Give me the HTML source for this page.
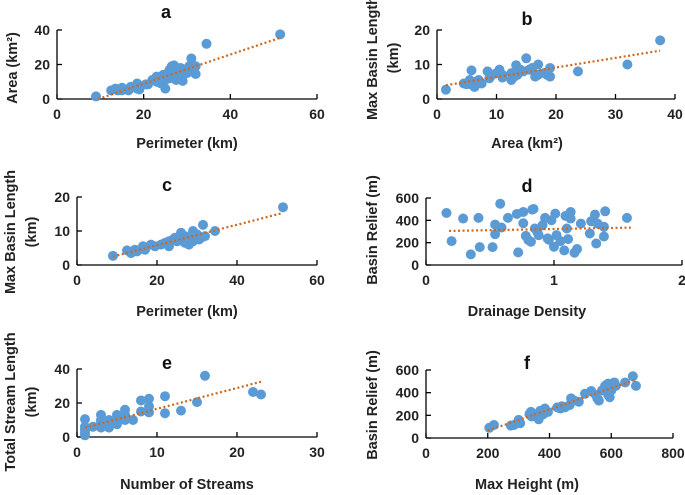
<!DOCTYPE html>
<html><head><meta charset="utf-8">
<style>
body{margin:0;background:#fff;}
svg{display:block;font-family:"Liberation Sans",sans-serif;font-weight:bold;}
</style></head>
<body>
<svg id="c" width="685" height="495" viewBox="0 0 685 495"></svg>
<script>
const aData=[[9,1.5],[12.5,5],[13.5,6],[14,5],[15,6.5],[15,5],[16.5,5],[17,7],[18.5,9],[18.5,6],[19,5.5],[20.5,8.5],[21,8.5],[22,11],[23,13],[23,10],[24,12],[24,9],[24.5,14],[25,6],[25,11],[25.5,15],[26,17],[26,12],[26.5,19],[27,19.5],[27,14],[27.5,11],[28,16],[28,12],[28.5,18],[29,10.5],[29,14],[29.5,17],[30,15],[30.5,19],[31,23.5],[31.5,18],[32,14.5],[32,19],[34.5,32],[51.5,37.5]];
const aTrend=[[9.5,0],[51.5,35.5]];
const bData=[[1.5,2.7],[4.5,4.5],[5,4.3],[5.5,5.5],[5.8,8.3],[6,4],[6.3,3.5],[6.5,5],[7,5.5],[7.5,4.5],[8.5,8],[8.8,6],[9,6.5],[10,7.5],[10.5,8.5],[11,6.2],[11,7],[12.5,5.5],[12.5,7.5],[13,6.5],[13.3,9.8],[13.5,7],[14,8.5],[14.5,8],[15,11.8],[15.5,8.5],[16,9],[16.5,6.5],[17,7],[17,10],[18,7.5],[18.5,7],[19,9],[19,6.5],[23.7,8],[32,10],[37.5,17]];
const bTrend=[[1.5,4],[37.5,14]];
const cData=[[9,2.7],[12.5,4.3],[13.5,3.5],[14.5,4.5],[15,4],[16.5,5.5],[17,4.5],[18.5,6],[19.5,5.5],[21,6],[22,6.5],[23,5.5],[23,7],[24,7.5],[24.5,8],[25,7],[25.5,8],[26,9.5],[26.5,7],[27,8.5],[27,6.5],[27.5,7.5],[28,6],[28.5,8],[29,10],[29,7],[29.5,8.5],[30,9],[30.5,7.5],[31,8],[31.5,11.8],[32,8.5],[34.5,10],[51.5,17]];
const cTrend=[[9,2.5],[51.5,15.3]];
const dData=[[0.16,466],[0.2,214],[0.29,416],[0.35,95],[0.41,422],[0.42,160],[0.52,160],[0.54,362],[0.54,276],[0.58,549],[0.59,336],[0.64,422],[0.72,113],[0.71,457],[0.76,374],[0.76,475],[0.78,261],[0.8,223],[0.82,208],[0.83,496],[0.84,502],[0.85,327],[0.87,297],[0.88,267],[0.91,356],[0.93,422],[0.95,238],[0.96,226],[0.98,401],[1.0,163],[1.01,460],[1.02,267],[1.05,214],[1.08,131],[1.09,440],[1.1,327],[1.11,232],[1.13,416],[1.13,475],[1.16,110],[1.18,143],[1.21,371],[1.28,282],[1.29,392],[1.32,451],[1.33,193],[1.34,371],[1.39,342],[1.39,255],[1.4,481],[1.57,422]];
const dTrend=[[0.18,305],[1.6,335]];
const eData=[[1,10.5],[1,6],[1,4],[1,2.5],[1,1],[1,5],[2,6],[3,13],[3,10],[3,7],[3,5.5],[3,9],[4,10],[4,7],[4,5.5],[5,13],[5,10],[5,7.5],[6,16],[6,13],[6,10],[7,10],[8,21.5],[8,15],[9,22.5],[9,18],[9,14.5],[11,24],[11,14],[13,15.5],[15,20.5],[16,36],[22,26.5],[23,25]];
const eTrend=[[1,5.5],[23,32.5]];
const fData=[[205,90],[220,115],[275,110],[285,115],[300,160],[305,130],[335,210],[340,230],[342,190],[365,165],[370,240],[380,210],[385,260],[395,230],[425,270],[435,260],[440,280],[450,270],[465,290],[470,350],[480,330],[495,320],[515,390],[535,415],[550,380],[555,350],[560,330],[570,420],[580,460],[585,470],[590,480],[590,380],[595,360],[600,420],[600,470],[610,490],[615,460],[645,490],[670,545],[680,460]];
const fTrend=[[200,65],[675,510]];
const aXTicks=[0,20,40,60],aYTicks=[0,20,40];
const bXTicks=[0,10,20,30,40],bYTicks=[0,10,20];
const cXTicks=[0,20,40,60],cYTicks=[0,10,20];
const dXTicks=[0,1,2],dYTicks=[0,200,400,600];
const eXTicks=[0,10,20,30],eYTicks=[0,20,40];
const fXTicks=[0,200,400,600,800],fYTicks=[0,200,400,600];

const NS="http://www.w3.org/2000/svg";
const svg=document.getElementById('c');
function mk(tag,attrs,parent,txt){const e=document.createElementNS(NS,tag);for(const k in attrs)e.setAttribute(k,attrs[k]);if(txt!==undefined)e.textContent=txt;(parent||svg).appendChild(e);return e;}

function panel(p){
  const g=mk('g',{});
  
  
  const xmin=p.xt[0],xmax=p.xt[p.xt.length-1],ymin=p.yt[0],ymax=p.yt[p.yt.length-1];
  const X=v=>p.x0+(v-xmin)/(xmax-xmin)*(p.x1-p.x0);
  const Y=v=>p.y0-(v-ymin)/(ymax-ymin)*(p.y0-p.y1);
  const ax=mk('g',{stroke:'#000','stroke-width':1.3},g);
  
  
  mk('line',{x1:p.x0,y1:p.y0,x2:p.x1,y2:p.y0},ax);
  mk('line',{x1:p.x0,y1:p.y0,x2:p.x0,y2:p.y1},ax);
  p.xt.forEach(t=>{mk('line',{x1:X(t),y1:p.y0,x2:X(t),y2:p.y0-5},ax);
    const tx=mk('text',{x:X(t),y:p.y0+20,'text-anchor':'middle','font-size':14,fill:'#222'},g,String(t));
    
    });
  p.yt.forEach(t=>{mk('line',{x1:p.x0,y1:Y(t),x2:p.x0+5,y2:Y(t)},ax);
    const tx=mk('text',{x:p.x0-7,y:Y(t)+5,'text-anchor':'end','font-size':14,fill:'#222'},g,String(t));
    
    });
  p.data.forEach(d=>{const c=mk('circle',{cx:X(d[0]),cy:Y(d[1]),r:5,fill:'#5b9bd5'},g);
    
    });
  const tl=mk('line',{x1:X(p.tr[0][0]),y1:Y(p.tr[0][1]),x2:X(p.tr[1][0]),y2:Y(p.tr[1][1]),stroke:'#d0661a','stroke-width':2.2,'stroke-dasharray':'2 2.5'},g);
  
  
  const t=mk('text',{x:p.tx,y:p.ty,'text-anchor':'middle','font-size':18,fill:'#111'},g,p.id);
  
  
  const xl=mk('text',{x:p.xlx,y:p.xly,'text-anchor':'middle','font-size':14.5,fill:'#222'},g,p.xl);
  
  
  p.yl.forEach((s,i)=>{const yl=mk('text',{x:0,y:0,'text-anchor':'middle','font-size':14.5,fill:'#222',transform:`translate(${p.ylx[i]},${p.yly}) rotate(-90)`},g,s);
    
    });
}
panel({id:'a',x0:57,x1:317,y0:99,y1:30,xt:aXTicks,yt:aYTicks,data:aData,tr:aTrend,tx:166,ty:18,xl:'Perimeter (km)',xlx:187,xly:148,yl:['Area (km²)'],ylx:[17],yly:68});
panel({id:'b',x0:437,x1:675,y0:99,y1:30,xt:bXTicks,yt:bYTicks,data:bData,tr:bTrend,tx:527,ty:25,xl:'Area (km²)',xlx:527,xly:148,yl:['Max Basin Length','(km)'],ylx:[377,398],yly:58});
panel({id:'c',x0:77,x1:317,y0:265,y1:197,xt:cXTicks,yt:cYTicks,data:cData,tr:cTrend,tx:167,ty:191,xl:'Perimeter (km)',xlx:187,xly:316,yl:['Max Basin Length','(km)'],ylx:[15,36],yly:232});
panel({id:'d',x0:426,x1:682,y0:265,y1:198,xt:dXTicks,yt:dYTicks,data:dData,tr:dTrend,tx:527,ty:192,xl:'Drainage Density',xlx:527,xly:316,yl:['Basin Relief (m)'],ylx:[377],yly:230});
panel({id:'e',x0:77,x1:317,y0:437,y1:369,xt:eXTicks,yt:eYTicks,data:eData,tr:eTrend,tx:167,ty:369,xl:'Number of Streams',xlx:187,xly:489,yl:['Total Stream Length','(km)'],ylx:[15,36],yly:402});
panel({id:'f',x0:426,x1:673,y0:438,y1:370,xt:fXTicks,yt:fYTicks,data:fData,tr:fTrend,tx:527,ty:369,xl:'Max Height (m)',xlx:527,xly:489,yl:['Basin Relief (m)'],ylx:[377],yly:405});
</script>
</body></html>
